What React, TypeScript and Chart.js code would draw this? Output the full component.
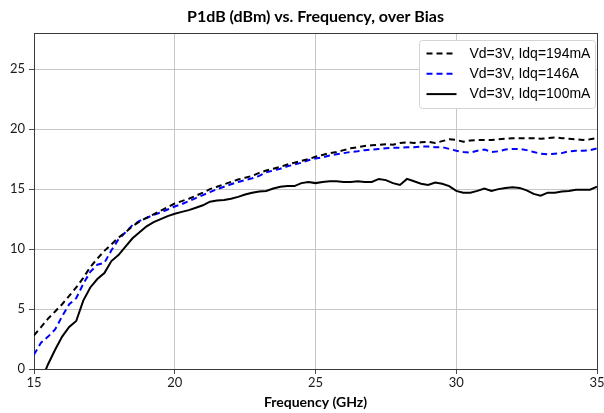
import React, { useEffect, useRef } from "react";
import { Chart, registerables } from "chart.js";

Chart.register(...registerables);

const chartTitle = "P1dB (dBm) vs. Frequency, over Bias";
const xAxisTitle = "Frequency (GHz)";
const seriesLabels = ["Vd=3V, Idq=194mA", "Vd=3V, Idq=146A", "Vd=3V, Idq=100mA"];

const frequencies = [
  15, 15.25, 15.5, 15.75, 16, 16.25, 16.5, 16.75, 17, 17.25, 17.5, 17.75,
  18, 18.25, 18.5, 18.75, 19, 19.25, 19.5, 19.75, 20, 20.25, 20.5, 20.75,
  21, 21.25, 21.5, 21.75, 22, 22.25, 22.5, 22.75, 23, 23.25, 23.5, 23.75,
  24, 24.25, 24.5, 24.75, 25, 25.25, 25.5, 25.75, 26, 26.25, 26.5, 26.75,
  27, 27.25, 27.5, 27.75, 28, 28.25, 28.5, 28.75, 29, 29.25, 29.5, 29.75,
  30, 30.25, 30.5, 30.75, 31, 31.25, 31.5, 31.75, 32, 32.25, 32.5, 32.75,
  33, 33.25, 33.5, 33.75, 34, 34.25, 34.5, 34.75, 35,
];

const idq194 = [
  2.8, 3.5, 4.2, 4.8, 5.4, 6.1, 6.8, 7.6, 8.5, 9.2, 9.85, 10.4,
  10.95, 11.4, 11.9, 12.3, 12.6, 12.9, 13.2, 13.5, 13.8, 14.0, 14.2, 14.45,
  14.7, 15.0, 15.2, 15.4, 15.6, 15.8, 15.95, 16.1, 16.35, 16.55, 16.7, 16.85,
  17.05, 17.2, 17.35, 17.5, 17.7, 17.85, 18.0, 18.1, 18.25, 18.4, 18.5, 18.6,
  18.65, 18.7, 18.75, 18.7, 18.85, 18.9, 18.85, 18.9, 18.95, 18.85, 19.0, 19.15,
  19.1, 18.95, 19.05, 19.1, 19.1, 19.1, 19.15, 19.2, 19.25, 19.25, 19.25, 19.25,
  19.2, 19.25, 19.3, 19.25, 19.2, 19.15, 19.1, 19.15, 19.25,
];

const idq146 = [
  1.2, 2.2, 2.7, 3.3, 4.4, 5.4, 5.9, 7.1, 8.1, 8.7, 8.85, 9.9,
  10.8, 11.4, 12.0, 12.35, 12.6, 12.85, 13.05, 13.3, 13.55, 13.75, 14.0, 14.25,
  14.5, 14.75, 15.0, 15.2, 15.4, 15.6, 15.75, 15.9, 16.1, 16.4, 16.55, 16.7,
  16.9, 17.05, 17.2, 17.4, 17.55, 17.65, 17.8, 17.9, 18.0, 18.1, 18.15, 18.25,
  18.3, 18.35, 18.4, 18.45, 18.45, 18.5, 18.5, 18.55, 18.55, 18.5, 18.5, 18.35,
  18.2, 18.1, 18.05, 18.2, 18.3, 18.1, 18.15, 18.3, 18.35, 18.35, 18.25, 18.1,
  17.95, 17.9, 17.95, 18.0, 18.15, 18.2, 18.2, 18.25, 18.4,
];

const idq100 = [
  -2.4, -1.0, 0.4, 1.6, 2.7, 3.5, 4.0, 5.7, 6.8, 7.5, 8.0, 9.0,
  9.5, 10.2, 10.9, 11.4, 11.9, 12.25, 12.5, 12.75, 12.95, 13.1, 13.25, 13.45,
  13.65, 13.95, 14.05, 14.1, 14.2, 14.35, 14.55, 14.7, 14.8, 14.85, 15.05, 15.2,
  15.25, 15.25, 15.5, 15.6, 15.5, 15.6, 15.65, 15.65, 15.6, 15.6, 15.65, 15.6,
  15.6, 15.85, 15.75, 15.5, 15.35, 15.85, 15.65, 15.45, 15.35, 15.55, 15.45, 15.25,
  14.85, 14.7, 14.7, 14.85, 15.05, 14.85, 15.0, 15.1, 15.15, 15.1, 14.9, 14.6,
  14.45, 14.7, 14.7, 14.8, 14.85, 14.95, 14.95, 14.95, 15.2,
];

const xTicks = [15, 20, 25, 30, 35];
const yTicks = [0, 5, 10, 15, 20, 25];
const yMax = 28;

const seriesColors = ["#000000", "#0000ff", "#000000"];
const seriesDashes = [[6, 4], [6, 4], []];

const boxPlugin = {
  id: "plotBox",
  beforeDatasetsDraw(chart: any) {
    const { ctx, chartArea } = chart;
    ctx.save();
    ctx.strokeStyle = "#3a3a3a";
    ctx.lineWidth = 1;
    ctx.strokeRect(
      Math.round(chartArea.left) + 0.5,
      Math.round(chartArea.top) + 0.5,
      Math.round(chartArea.right - chartArea.left),
      Math.round(chartArea.bottom - chartArea.top)
    );
    ctx.restore();
  },
};

const legendPlugin = {
  id: "boxLegend",
  afterDatasetsDraw(chart: any) {
    const { ctx, chartArea } = chart;
    const w = 176;
    const h = 68;
    const x = Math.round(chartArea.right) - w - 1.5;
    const y = Math.round(chartArea.top) + 7.5;
    ctx.save();
    ctx.beginPath();
    const r = 3;
    ctx.moveTo(x + r, y);
    ctx.lineTo(x + w - r, y);
    ctx.arcTo(x + w, y, x + w, y + r, r);
    ctx.lineTo(x + w, y + h - r);
    ctx.arcTo(x + w, y + h, x + w - r, y + h, r);
    ctx.lineTo(x + r, y + h);
    ctx.arcTo(x, y + h, x, y + h - r, r);
    ctx.lineTo(x, y + r);
    ctx.arcTo(x, y, x + r, y, r);
    ctx.closePath();
    ctx.fillStyle = "#ffffff";
    ctx.fill();
    ctx.strokeStyle = "#d4d4d4";
    ctx.lineWidth = 1;
    ctx.stroke();
    chart.data.datasets.forEach((ds: any, i: number) => {
      const cy = y + 13 + i * 20.3;
      ctx.beginPath();
      ctx.setLineDash(ds.borderDash || []);
      ctx.strokeStyle = ds.borderColor;
      ctx.lineWidth = 2;
      ctx.moveTo(x + 7, cy);
      ctx.lineTo(x + 37, cy);
      ctx.stroke();
      ctx.setLineDash([]);
      ctx.fillStyle = "#000000";
      ctx.font = "14px 'Liberation Sans', Arial, sans-serif";
      ctx.textBaseline = "middle";
      ctx.textAlign = "left";
      ctx.fillText(ds.label, x + 50, cy + 0.5);
    });
    ctx.restore();
  },
};

export default function App() {
  const canvasRef = useRef<HTMLCanvasElement | null>(null);

  useEffect(() => {
    if (!canvasRef.current) return;
    const seriesValues = [idq194, idq146, idq100];
    const chart = new Chart(canvasRef.current, {
      type: "line",
      data: {
        datasets: seriesValues.map((vals, i) => ({
          label: seriesLabels[i],
          data: frequencies.map((f, j) => ({ x: f, y: vals[j] })),
          borderColor: seriesColors[i],
          backgroundColor: seriesColors[i],
          borderDash: seriesDashes[i],
          borderWidth: 2,
          pointRadius: 0,
          tension: 0,
          fill: false,
        })),
      },
      options: {
        animation: false,
        responsive: true,
        maintainAspectRatio: false,
        layout: { padding: { left: 0, right: 7, top: 0, bottom: 0 } },
        plugins: {
          legend: { display: false },
          tooltip: { enabled: false },
          title: {
            display: true,
            text: chartTitle,
            fullSize: false,
            color: "#000000",
            font: { family: "Lato, 'Open Sans', sans-serif", size: 16, weight: "bold" },
            padding: { top: 7, bottom: 7 },
          },
        },
        scales: {
          x: {
            type: "linear",
            min: xTicks[0],
            max: xTicks[xTicks.length - 1],
            afterBuildTicks: (s: any) => {
              s.ticks = xTicks.map((v) => ({ value: v }));
            },
            afterFit: (s: any) => {
              s.height = 44;
              s.paddingLeft = 0;
              s.paddingRight = 0;
            },
            grid: { color: "#c6c6c6", tickColor: "#4a4a4a", tickLength: 5, lineWidth: 1 },
            border: { color: "#3a3a3a", width: 1 },
            ticks: {
              color: "#1a1a1a",
              font: { family: "Lato, 'Open Sans', sans-serif", size: 13 },
              padding: 1,
              maxRotation: 0,
              autoSkip: false,
            },
            title: {
              display: true,
              text: xAxisTitle,
              color: "#000000",
              font: { family: "Lato, 'Open Sans', sans-serif", size: 14, weight: "bold" },
              padding: { top: 0, bottom: 2 },
            },
          },
          y: {
            type: "linear",
            min: 0,
            max: yMax,
            afterBuildTicks: (s: any) => {
              s.ticks = yTicks.map((v) => ({ value: v }));
            },
            afterFit: (s: any) => {
              s.width = 34;
              s.paddingTop = 0;
              s.paddingBottom = 0;
            },
            grid: { color: "#c6c6c6", tickColor: "#4a4a4a", tickLength: 5, lineWidth: 1 },
            border: { color: "#3a3a3a", width: 1 },
            ticks: {
              color: "#1a1a1a",
              font: { family: "Lato, 'Open Sans', sans-serif", size: 13 },
              padding: 4,
              autoSkip: false,
            },
          },
        },
      },
      plugins: [boxPlugin, legendPlugin],
    } as any);
    return () => chart.destroy();
  }, []);

  return (
    <div style={{ position: "fixed", left: 0, top: 0, width: 604, height: 413, background: "#ffffff" }}>
      <canvas ref={canvasRef} />
    </div>
  );
}
